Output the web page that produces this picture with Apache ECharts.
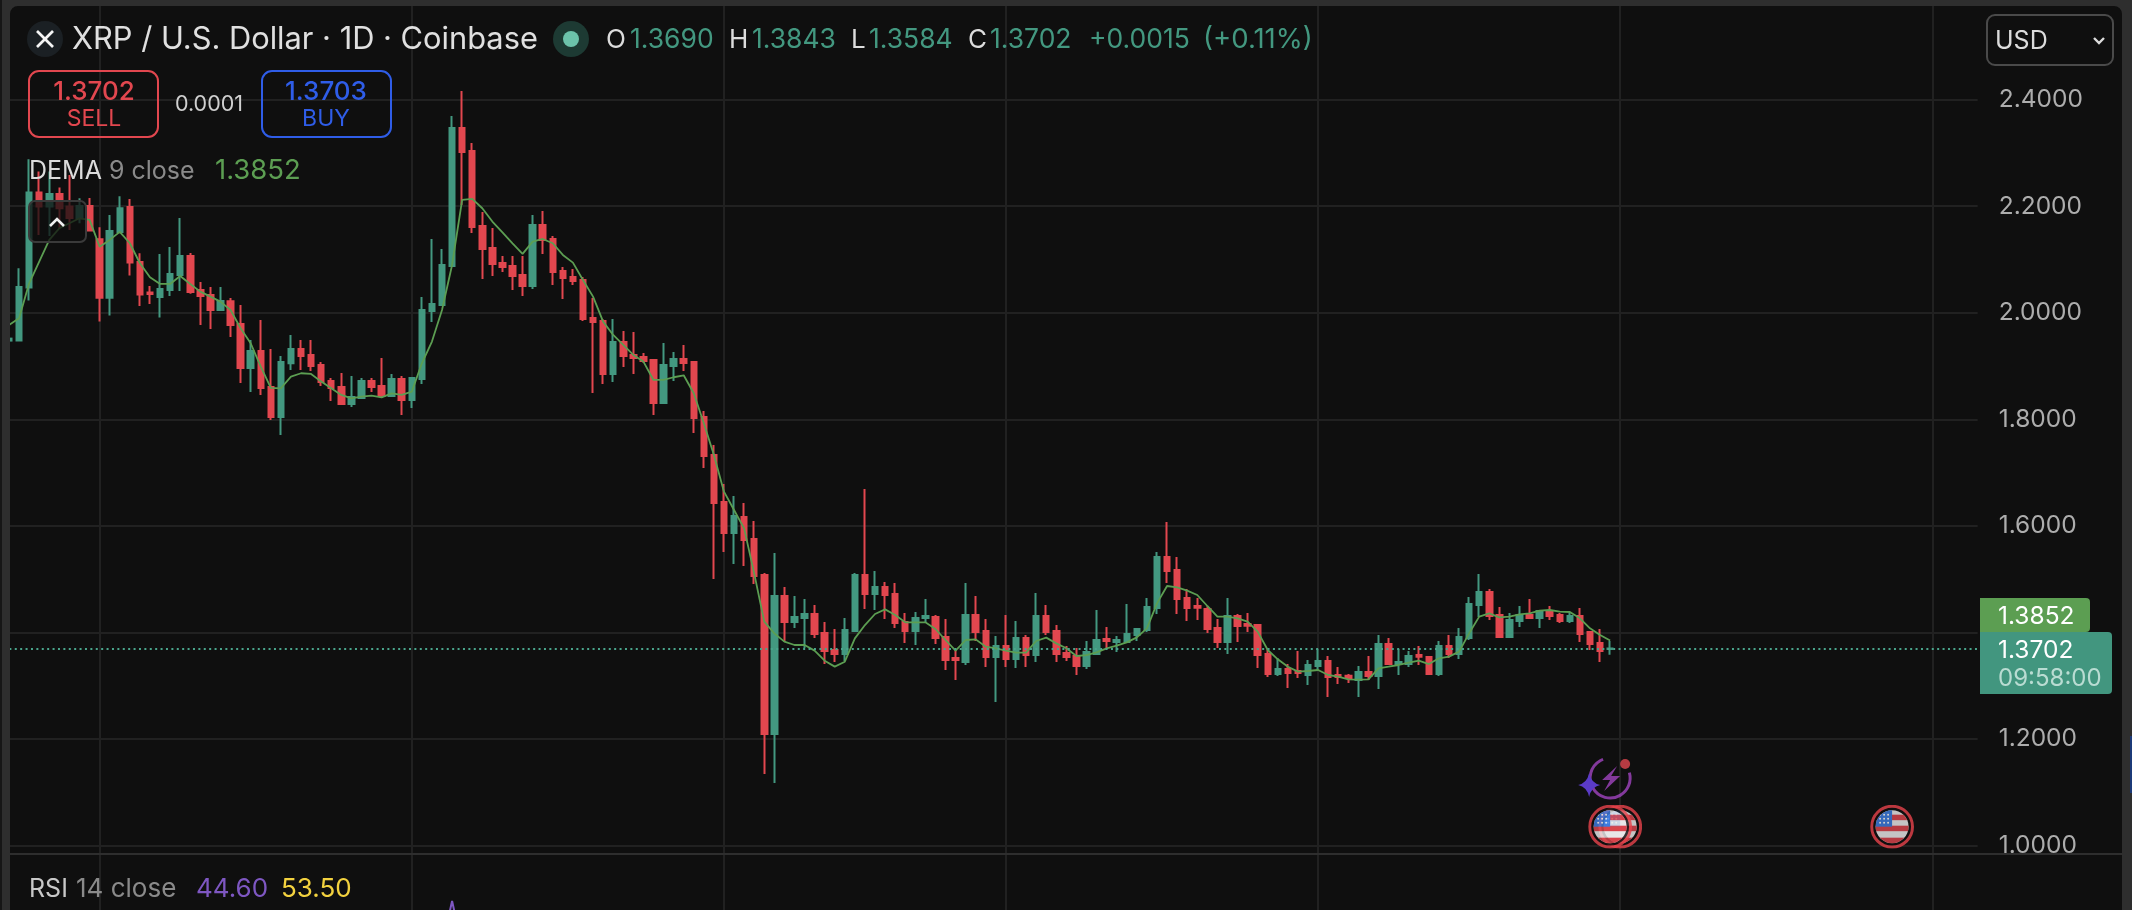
<!DOCTYPE html>
<html>
<head>
<meta charset="utf-8">
<title>XRP / U.S. Dollar</title>
<script src="https://cdn.jsdelivr.net/npm/echarts@6/dist/echarts.min.js"></script>
<style>
    html, body { margin: 0; padding: 0; background: #0f0f0f; }
    #charts { width: 2132px; height: 910px; }
</style>
</head>
<body>
<div id="charts"></div>
<script>
// 日线数据，第一根从 2025-11-22 开始
var opens = [
    1.9478,1.9478,2.0472,2.2255,2.1992,2.2230,2.1992,2.1773,2.2005,2.1379,
    2.0284,2.1517,2.1986,2.0954,2.0378,2.0297,2.0428,2.0710,2.1066,2.0428,
    2.0335,2.0053,2.0216,1.9790,1.8965,1.9284,1.8608,1.8045,1.9052,1.9321,
    1.9209,1.9021,1.8721,1.8608,1.8289,1.8402,1.8721,1.8627,1.8439,1.8758,
    1.8364,1.8758,2.0034,2.0147,2.0879,2.3468,2.3037,2.1629,2.1216,2.0935,
    2.0879,2.0710,2.0503,2.1648,2.1385,2.0785,2.0672,2.0616,1.9903,1.9847,
    1.8852,1.9453,1.9209,1.9171,1.9115,1.8308,1.9002,1.9134,1.9077,1.8045,
    1.7332,1.6450,1.5868,1.6168,1.5755,1.5080,1.2096,1.4686,1.4198,1.4273,
    1.4348,1.3991,1.3672,1.3597,1.4029,1.5080,1.4723,1.4855,1.4723,1.4198,
    1.4029,1.4273,1.4292,1.3917,1.3522,1.3447,1.4329,1.4029,1.3541,1.3747,
    1.3503,1.3898,1.3579,1.4310,1.4029,1.3616,1.3560,1.3372,1.3597,1.3879,
    1.3822,1.3822,1.3954,1.4048,1.4460,1.5417,1.5173,1.4648,1.4498,1.4442,
    1.4085,1.3822,1.4310,1.4160,1.4141,1.3597,1.3222,1.3316,1.3278,1.3203,
    1.3372,1.3466,1.3203,1.3191,1.3109,1.3259,1.3184,1.3785,1.3409,1.3409,
    1.3578,1.3541,1.3222,1.3747,1.3597,1.3897,1.4517,1.4761,1.4329,1.3916,
    1.4216,1.4329,1.4273,1.4385,1.4329,1.4216,1.4310,1.4010,1.3804,1.3690
];
var closes = [
    1.9515,2.0485,2.2255,2.1992,2.2230,2.1961,2.1779,2.2005,2.1542,2.0284,
    2.1535,2.1961,2.0941,2.0341,2.0353,2.0447,2.0729,2.1066,2.0391,2.0316,
    2.0053,2.0222,1.9772,1.8965,1.9284,1.8589,1.8045,1.9077,1.9321,1.9190,
    1.9002,1.8702,1.8589,1.8289,1.8420,1.8721,1.8608,1.8439,1.8758,1.8364,
    1.8777,2.0053,2.0166,2.0897,2.3468,2.3018,2.1611,2.1198,2.0916,2.0860,
    2.0691,2.0503,2.1648,2.1367,2.0766,2.0654,2.0597,1.9884,1.9828,1.8852,
    1.9453,1.9190,1.9152,1.9096,1.8308,1.9021,1.9134,1.9058,1.8026,1.7313,
    1.6431,1.5868,1.6187,1.5736,1.5061,1.2096,1.4686,1.4198,1.4292,1.4348,
    1.3973,1.3654,1.3597,1.4048,1.5080,1.4723,1.4855,1.4704,1.4179,1.4029,
    1.4273,1.4310,1.3898,1.3485,1.3485,1.4329,1.4010,1.3541,1.3747,1.3503,
    1.3898,1.3579,1.4310,1.4010,1.3597,1.3541,1.3372,1.3635,1.3860,1.3841,
    1.3860,1.3973,1.4066,1.4479,1.5417,1.5155,1.4629,1.4460,1.4467,1.4066,
    1.3822,1.4310,1.4123,1.4129,1.3578,1.3222,1.3316,1.3241,1.3241,1.3391,
    1.3466,1.3166,1.3166,1.3147,1.3259,1.3184,1.3785,1.3409,1.3447,1.3560,
    1.3547,1.3222,1.3747,1.3597,1.3916,1.4535,1.4761,1.4310,1.3916,1.4235,
    1.4329,1.4273,1.4404,1.4310,1.4216,1.4310,1.3972,1.3785,1.3653,1.3702
];
var lows = [
    1.9478,1.9478,2.0228,2.1460,2.1442,2.1586,2.1554,2.1679,2.1542,1.9834,
    1.9947,2.1492,2.0697,2.0128,2.0166,1.9909,2.0316,2.0410,2.0359,1.9772,
    1.9697,2.0053,1.9546,1.8683,1.8514,1.8458,1.7989,1.7707,1.8927,1.8927,
    1.8908,1.8627,1.8345,1.8270,1.8233,1.8383,1.8514,1.8402,1.8420,1.8083,
    1.8214,1.8664,1.9828,2.0147,2.0860,2.2023,2.1498,2.0635,2.0691,2.0766,
    2.0428,2.0316,2.0447,2.1104,2.0522,2.0259,2.0522,1.9847,1.8496,1.8664,
    1.8702,1.8983,1.8852,1.9058,1.8083,1.8308,1.8721,1.8908,1.7745,1.7088,
    1.5005,1.5511,1.5286,1.5249,1.4911,1.1345,1.1177,1.3822,1.4085,1.3710,
    1.3898,1.3410,1.3447,1.3466,1.4029,1.4442,1.4423,1.4254,1.4085,1.3804,
    1.3766,1.4179,1.3785,1.3297,1.3109,1.3391,1.3841,1.3353,1.2697,1.3353,
    1.3335,1.3353,1.3447,1.3954,1.3447,1.3466,1.3203,1.3316,1.3597,1.3691,
    1.3635,1.3822,1.3841,1.4010,1.4348,1.4929,1.4348,1.4216,1.4235,1.3991,
    1.3710,1.3597,1.3822,1.4010,1.3334,1.3166,1.3184,1.2959,1.3147,1.3015,
    1.3297,1.2790,1.3034,1.3053,1.2790,1.3109,1.2940,1.3391,1.3203,1.3353,
    1.3391,1.3203,1.3184,1.3522,1.3503,1.3860,1.4292,1.4235,1.3916,1.3916,
    1.4104,1.4273,1.4085,1.4235,1.4179,1.4179,1.3822,1.3672,1.3447,1.3584
];
var highs = [
    1.9515,2.0835,2.2880,2.2649,2.2649,2.2349,2.2586,2.2148,2.2155,2.1604,
    2.1836,2.2186,2.2136,2.1116,2.0503,2.1104,2.1235,2.1779,2.1123,2.0578,
    2.0485,2.0485,2.0278,2.0147,1.9490,1.9865,1.9321,1.9190,1.9584,1.9490,
    1.9490,1.9077,1.8777,1.8871,1.8815,1.8777,1.8777,1.9152,1.8852,1.8815,
    1.8777,2.0297,2.1385,2.1198,2.3693,2.4163,2.3187,2.1892,2.1592,2.1066,
    2.1066,2.1066,2.1836,2.1911,2.1442,2.0860,2.0822,2.0672,2.0278,1.9884,
    1.9884,1.9659,1.9640,1.9246,1.9134,1.9434,1.9265,1.9396,1.9096,1.8158,
    1.7519,1.6787,1.6562,1.6431,1.6093,1.5117,1.5493,1.4855,1.4686,1.4629,
    1.4517,1.4198,1.4066,1.4273,1.5117,1.6694,1.5155,1.4948,1.4930,1.4367,
    1.4385,1.4629,1.4329,1.4254,1.3672,1.4930,1.4686,1.4254,1.3935,1.4329,
    1.4216,1.3954,1.4742,1.4517,1.4141,1.3747,1.3710,1.3841,1.4423,1.4104,
    1.3935,1.4535,1.4085,1.4648,1.5511,1.6074,1.5417,1.4817,1.4648,1.4498,
    1.4254,1.4648,1.4348,1.4367,1.4160,1.3710,1.3522,1.3409,1.3653,1.3485,
    1.3691,1.3560,1.3353,1.3222,1.3372,1.3560,1.3954,1.3897,1.3691,1.3653,
    1.3747,1.3560,1.3841,1.3954,1.4085,1.4667,1.5098,1.4817,1.4479,1.4367,
    1.4498,1.4629,1.4423,1.4498,1.4367,1.4367,1.4460,1.4010,1.4066,1.3843
];
var demaValues = [
    1.9772,1.9897,2.0553,2.0960,2.1367,2.1586,2.1679,2.1773,2.1742,2.1241,
    2.1367,2.1517,2.1304,2.0929,2.0666,2.0541,2.0541,2.0691,2.0541,2.0397,
    2.0303,2.0209,2.0053,1.9709,1.9428,1.8990,1.8589,1.8583,1.8802,1.8865,
    1.8852,1.8708,1.8583,1.8458,1.8395,1.8427,1.8445,1.8414,1.8489,1.8458,
    1.8521,1.9052,1.9459,2.0053,2.0897,2.2117,2.2136,2.1961,2.1711,2.1510,
    2.1304,2.1104,2.1335,2.1385,2.1304,2.1085,2.0941,2.0616,2.0303,1.9834,
    1.9584,1.9396,1.9209,1.9084,1.8739,1.8739,1.8790,1.8827,1.8489,1.7926,
    1.7332,1.6643,1.6299,1.5955,1.5111,1.4204,1.3985,1.3829,1.3766,1.3766,
    1.3660,1.3472,1.3360,1.3453,1.3891,1.4141,1.4348,1.4435,1.4329,1.4192,
    1.4192,1.4192,1.4066,1.3860,1.3660,1.3860,1.3872,1.3735,1.3704,1.3660,
    1.3622,1.3622,1.3841,1.3904,1.3797,1.3704,1.3560,1.3578,1.3629,1.3704,
    1.3754,1.3816,1.3910,1.4079,1.4548,1.4873,1.4848,1.4786,1.4704,1.4498,
    1.4298,1.4298,1.4266,1.4204,1.4016,1.3672,1.3497,1.3359,1.3266,1.3278,
    1.3297,1.3203,1.3172,1.3122,1.3116,1.3122,1.3328,1.3359,1.3391,1.3435,
    1.3472,1.3409,1.3516,1.3547,1.3641,1.3985,1.4298,1.4360,1.4285,1.4298,
    1.4342,1.4360,1.4410,1.4423,1.4392,1.4385,1.4266,1.4079,1.3954,1.3852
];
// RSI 窗格只露出一个尖
var rsiPeak = [[43, 50], [44, 74.9], [45, 50]];
var monthStarts = [9, 40, 71, 99, 130, 160, 191];
var yTicks = [1.0, 1.2, 1.4, 1.6, 1.8, 2.0, 2.2, 2.4];
var lastPrice = 1.3702;
// 事件标记: [序号, 价格]
var flagEvents = [[160, 1.0357], [159, 1.0357], [187, 1.0357]];
var aiEvents = [[159, 1.127]];

var SLOTS = 196;
var UP = '#439880', DOWN = '#e2474f', DEMA = '#5c9e52', BG = '#0f0f0f', GRID = '#212121', FRAME = '#2e2e2e';
var FONT = 'Inter, "Noto Sans", sans-serif';

var categories = [];
(function () {
    var d = new Date(Date.UTC(2025, 10, 22));
    for (var i = 0; i < SLOTS; i++) {
        categories.push(d.toISOString().slice(0, 10));
        d.setUTCDate(d.getUTCDate() + 1);
    }
})();

function svgSymbol(svg) {
    return 'image://data:image/svg+xml;charset=utf-8,' + encodeURIComponent(svg);
}

var flagSvg = "<svg xmlns='http://www.w3.org/2000/svg' viewBox='0 0 44 44'>" +
    "<circle cx='22' cy='22' r='20.4' fill='#0f0f0f' stroke='#e8434b' stroke-width='3'/>" +
    "<clipPath id='c'><circle cx='22' cy='22' r='16.5'/></clipPath><g clip-path='url(#c)'>" +
    "<rect x='5' y='5' width='34' height='34' fill='#f2f2f2'/>" +
    "<rect x='5' y='10' width='34' height='5.5' fill='#e2474f'/>" +
    "<rect x='5' y='21' width='34' height='5.5' fill='#e2474f'/>" +
    "<rect x='5' y='33' width='34' height='6' fill='#e2474f'/>" +
    "<rect x='5' y='5' width='17' height='17' fill='#3f80e8'/>" +
    "<g fill='#fff'><circle cx='10' cy='10' r='1'/><circle cx='14' cy='10' r='1'/><circle cx='18' cy='10' r='1'/>" +
    "<circle cx='10' cy='14' r='1'/><circle cx='14' cy='14' r='1'/><circle cx='18' cy='14' r='1'/>" +
    "<circle cx='10' cy='18' r='1'/><circle cx='14' cy='18' r='1'/><circle cx='18' cy='18' r='1'/></g></g></svg>";

var aiSvg = "<svg xmlns='http://www.w3.org/2000/svg' viewBox='0 0 70 70'>" +
    "<circle cx='35' cy='35' r='20' fill='none' stroke='#a044c0' stroke-width='3' stroke-dasharray='92 34' stroke-dashoffset='-5' transform='rotate(-30 35 35)'/>" +
    "<path d='M42 23 L27 37 L35 37 L29 48 L45 33 L36 33 Z' fill='#a044c0'/>" +
    "<path d='M14 30 Q16 40 25 42 Q16 44 14 54 Q12 44 3 42 Q12 40 14 30 Z' fill='#6d47f5'/>" +
    "<circle cx='50' cy='21' r='5' fill='#e2474f'/></svg>";

function text(x, y, str, fill, size, weight, align) {
    return {
        type: 'text', z: 100,
        style: {
            x: x, y: y, text: str, fill: fill,
            font: (weight || 400) + ' ' + size + 'px ' + FONT,
            textAlign: align || 'left', textVerticalAlign: 'middle'
        }
    };
}

function box(x, y, w, h, r, fill, stroke, lw) {
    return {
        type: 'rect', z: 100,
        shape: {x: x, y: y, width: w, height: h, r: r},
        style: {fill: fill, stroke: stroke || null, lineWidth: lw || 0}
    };
}

function stroke(points, color, lw) {
    return {
        type: 'polyline', z: 101,
        shape: {points: points},
        style: {fill: null, stroke: color, lineWidth: lw}
    };
}

var overlay = [
    // 外框
    box(0, -4, 2132, 950, 18, null, FRAME, 20),
    box(0, 0, 2, 910, 0, '#161616'),
    box(2130, 736, 2, 57, 0, '#1c3a78'),
    box(1985, 855, 130, 55, 0, BG),
    box(10, 853, 2112, 2, 0, FRAME),
    // 标题栏
    {type: 'circle', z: 100, shape: {cx: 45, cy: 39, r: 18}, style: {fill: '#1b2024'}},
    stroke([[37, 31], [53, 47]], '#f5f5f5', 2.6),
    stroke([[53, 31], [37, 47]], '#f5f5f5', 2.6),
    text(72, 40, 'XRP / U.S. Dollar · 1D · Coinbase', '#e0e0e0', 30.8),
    {type: 'circle', z: 100, shape: {cx: 571, cy: 39, r: 18}, style: {fill: '#1d3a33'}},
    {type: 'circle', z: 100, shape: {cx: 571, cy: 39, r: 8}, style: {fill: '#6cc2aa'}},
    text(606, 40, 'O', '#dcdcdc', 26), text(630, 40, '1.3690', UP, 26.5),
    text(729, 40, 'H', '#dcdcdc', 26), text(752, 40, '1.3843', UP, 26.5),
    text(851, 40, 'L', '#dcdcdc', 26), text(869, 40, '1.3584', UP, 26.5),
    text(968, 40, 'C', '#dcdcdc', 26), text(990, 40, '1.3702', UP, 26.5),
    text(1089, 40, '+0.0015', UP, 26.5), text(1203, 40, '(+0.11%)', UP, 27.5),
    // 买卖按钮
    box(29, 71, 129, 66, 10, null, DOWN, 2),
    text(94, 92, '1.3702', DOWN, 26, 500, 'center'),
    text(94, 119, 'SELL', DOWN, 23, 400, 'center'),
    text(209, 105, '0.0001', '#d0d0d0', 21.5, 400, 'center'),
    box(262, 71, 129, 66, 10, null, '#2f5de8', 2),
    text(326, 92, '1.3703', '#2f5de8', 26, 500, 'center'),
    text(326, 119, 'BUY', '#2f5de8', 23, 400, 'center'),
    // 指标图例
    text(29, 171, 'DEMA', '#dcdcdc', 25),
    text(109, 171, '9 close', '#8a8a8a', 25),
    text(215, 171, '1.3852', DEMA, 27.5),
    box(29, 201, 57, 41, 6, 'rgba(15,15,15,0.75)', '#3a3a3a', 2),
    stroke([[50, 226], [57, 219], [64, 226]], '#f0f0f0', 2.6),
    text(29, 889, 'RSI', '#c8c8c8', 25),
    text(76, 889, '14 close', '#8a8a8a', 26),
    text(196, 889, '44.60', '#7e57c2', 26),
    text(281, 889, '53.50', '#f3d23f', 26),
    // 币种下拉
    box(1987, 15, 126, 50, 8, BG, '#4a4a4a', 2),
    text(1995, 41, 'USD', '#dcdcdc', 25),
    stroke([[2094, 38], [2099, 43], [2104, 38]], '#dcdcdc', 2.4),
    // 右侧价格标签
    box(1980, 598, 110, 34, [0, 4, 4, 0], DEMA),
    box(1980, 632, 132, 62, [0, 4, 4, 0], '#42967f'),
    text(1998, 617, '1.3852', '#ffffff', 24.5),
    text(1998, 651, '1.3702', '#ffffff', 24.5),
    text(1998, 679, '09:58:00', '#b9dcd2', 24)
];

var myChart = echarts.init(document.getElementById('charts'));
myChart.setOption({
    animation: false,
    backgroundColor: BG,
    grid: [
        {left: 3.97, top: -7, width: 1973.72, height: 959.3, outerBoundsMode: 'none'},
        {left: 3.97, top: 855, width: 1973.72, height: 55, outerBoundsMode: 'none'}
    ],
    xAxis: [
        {
            type: 'category', data: categories, gridIndex: 0,
            axisLine: {show: false}, axisTick: {show: false}, axisLabel: {show: false},
            splitLine: {
                show: true, alignWithLabel: true,
                interval: function (i) { return monthStarts.indexOf(i) >= 0; },
                lineStyle: {color: GRID, width: 2}
            }
        },
        {
            type: 'category', data: categories, gridIndex: 1,
            axisLine: {show: false}, axisTick: {show: false}, axisLabel: {show: false}, splitLine: {show: false}
        }
    ],
    yAxis: [
        {
            type: 'value', gridIndex: 0, position: 'right',
            min: 0.8, max: 2.6, interval: 0.2,
            axisLine: {show: false}, axisTick: {show: false},
            splitLine: {lineStyle: {color: GRID, width: 2}},
            axisLabel: {
                color: '#adadad', fontFamily: FONT, fontSize: 24.5, margin: 21, align: 'left', padding: [4, 0, 0, 0],
                formatter: function (v) {
                    return yTicks.indexOf(Math.round(v * 10) / 10) >= 0 ? v.toFixed(4) : '';
                }
            }
        },
        {type: 'value', gridIndex: 1, min: 70, max: 100, show: false}
    ],
    series: [
        {
            type: 'candlestick', xAxisIndex: 0, yAxisIndex: 0,
            barWidth: 6, clip: false, z: 3,
            data: opens.map(function (o, i) { return [o, closes[i], lows[i], highs[i]]; }),
            itemStyle: {color: UP, borderColor: UP, color0: DOWN, borderColor0: DOWN, borderWidth: 2},
            markLine: {
                silent: true, symbol: 'none', label: {show: false},
                data: [{yAxis: lastPrice}],
                lineStyle: {color: '#4aa58c', type: [2, 3.4], width: 2}
            }
        },
        {
            type: 'line', xAxisIndex: 0, yAxisIndex: 0, data: demaValues, z: 4,
            showSymbol: false, lineStyle: {color: DEMA, width: 1.8}
        },
        {
            type: 'scatter', xAxisIndex: 0, yAxisIndex: 0, data: flagEvents, z: 5, clip: false,
            symbol: svgSymbol(flagSvg), symbolSize: 44
        },
        {
            type: 'scatter', xAxisIndex: 0, yAxisIndex: 0, data: aiEvents, z: 5, clip: false,
            symbol: svgSymbol(aiSvg), symbolSize: 70
        },
        {
            type: 'line', xAxisIndex: 1, yAxisIndex: 1, data: rsiPeak,
            showSymbol: false, lineStyle: {color: '#7e57c2', width: 2}
        }
    ],
    graphic: {elements: overlay}
});
</script>
</body>
</html>
